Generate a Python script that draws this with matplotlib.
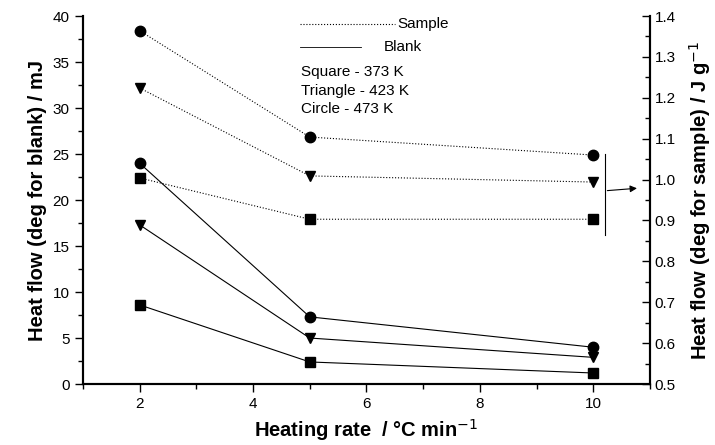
import matplotlib.pyplot as plt
import numpy as np

plt.rcParams['font.family'] = ['Liberation Sans', 'DejaVu Sans']

# 数据
rate = [2, 5, 10]
# blank (左轴, mJ)
blank_square = [8.6, 2.4, 1.2]
blank_triangle = [17.3, 5.0, 2.9]
blank_circle = [24.0, 7.3, 4.0]
# sample (右轴, J/g)
sample_square = [1.004, 0.903, 0.903]
sample_triangle = [1.224, 1.009, 0.994]
sample_circle = [1.364, 1.104, 1.060]

fig = plt.figure(figsize=(7.15, 4.45), dpi=100)
ax = fig.add_axes([0.116, 0.137, 0.793, 0.827])
ax2 = ax.twinx()

ms = 7.5
lw = 0.8
for vals, mk in [(blank_square, 's'), (blank_triangle, 'v'), (blank_circle, 'o')]:
    ax.plot(rate, vals, '-', color='black', lw=lw, marker=mk, ms=ms)
for vals, mk in [(sample_square, 's'), (sample_triangle, 'v'), (sample_circle, 'o')]:
    ax2.plot(rate, vals, ':', color='black', lw=lw, marker=mk, ms=ms)

ax.set_xlim(1, 11)
ax.set_ylim(0, 40)
ax2.set_ylim(0.5, 1.4)
ax.set_xticks([2, 4, 6, 8, 10])
ax.set_xticks(np.arange(1, 11.1, 1), minor=True)
ax.set_yticks(np.arange(0, 41, 5))
ax.set_yticks(np.arange(0, 41, 2.5), minor=True)
ax2.set_yticks(np.arange(0.5, 1.41, 0.1))
ax2.set_yticks(np.arange(0.5, 1.41, 0.05), minor=True)
ax2.set_yticklabels([f"{v:.1f}" for v in np.arange(0.5, 1.41, 0.1)])

ax.spines['top'].set_visible(False)
ax2.spines['top'].set_visible(False)
for a in (ax, ax2):
    for s in a.spines.values():
        s.set_linewidth(1.5)
ax.tick_params(axis='both', which='major', direction='out', length=6, width=1, labelsize=11)
ax.tick_params(axis='both', which='minor', direction='out', length=3.5, width=1)
ax2.tick_params(axis='y', which='major', direction='in', length=6, width=1, labelsize=11)
ax2.tick_params(axis='y', which='minor', direction='in', length=3.5, width=1)

ax.set_xlabel("Heating rate  / °C min$^{-1}$", fontsize=14.5, fontweight='bold', labelpad=4)
ax.set_ylabel("Heat flow (deg for blank) / mJ", fontsize=14.5, fontweight='bold')
ax2.set_ylabel("Heat flow (deg for sample) / J g$^{-1}$", fontsize=14.5, fontweight='bold', labelpad=8)

# 图例说明
ax.plot([4.83, 6.5], [39.1, 39.1], ':', color='black', lw=lw)
ax.text(6.55, 39.1, "Sample", fontsize=11, va='center')
ax.plot([4.83, 5.9], [36.6, 36.6], '-', color='black', lw=0.6)
ax.text(6.3, 36.6, "Blank", fontsize=11, va='center')
ax.text(4.85, 33.9, "Square - 373 K", fontsize=11, va='center')
ax.text(4.85, 31.9, "Triangle - 423 K", fontsize=11, va='center')
ax.text(4.85, 29.9, "Circle - 473 K", fontsize=11, va='center')

# 括号和箭头
ax.plot([10.2, 10.2], [16.2, 25.0], '-', color='black', lw=0.8)
ax.annotate("", xy=(10.82, 21.3), xytext=(10.2, 21.0),
            arrowprops=dict(arrowstyle='-|>', color='black', lw=0.8, mutation_scale=10))

fig.savefig("out.png", dpi=100)
